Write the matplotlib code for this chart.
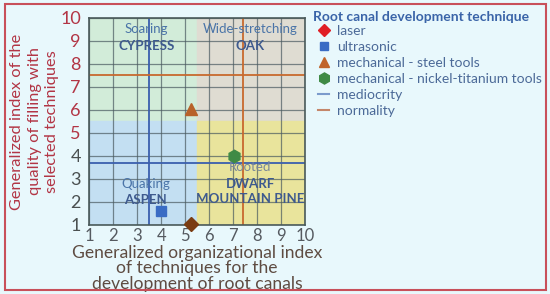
import matplotlib
matplotlib.use("Agg")
import matplotlib.pyplot as plt
from matplotlib.lines import Line2D
from matplotlib.patches import Rectangle

plt.rcParams['font.family'] = ['Lato', 'DejaVu Sans']

# ---- data ----
techniques = ["laser", "ultrasonic", "mechanical - steel tools",
              "mechanical - nickel-titanium tools"]
org_index = [5.25, 4.0, 5.25, 7.05]       # x: organizational index
quality_index = [1.05, 1.6, 6.05, 4.0]    # y: quality of filling index
mediocrity_x, mediocrity_y = 3.5, 3.7
normality_x, normality_y = 7.4, 7.5
split_x, split_y = 5.5, 5.5
ticks = list(range(1, 11))
quadrant_titles = ["Soaring", "Wide-stretching", "Quaking", "Rooted"]
quadrant_names = ["CYPRESS", "OAK", "ASPEN", "DWARF\nMOUNTAIN PINE"]

# ---- styles ----
plot_colors = ["#7a3c12", "#3a6cc4", "#b8622a", "#3f8a45"]
legend_colors = ["#e01e25", "#3a6cc4", "#c0642a", "#3f8a45"]
markers = ["D", "s", "^", "h"]
msizes = [7, 7, 8, 9]

fig = plt.figure(figsize=(5.5, 2.94), dpi=100)
fig.patch.set_facecolor("#e8f8fc")
fig.patches.append(Rectangle((0.009, 0.014), 0.984, 0.972, transform=fig.transFigure,
                             fill=False, edgecolor="#c8505a", linewidth=1.5))

ax = fig.add_axes([0.162, 0.235, 0.393, 0.704])
ax.set_xlim(1, 10)
ax.set_ylim(1, 10)

# quadrants
ax.add_patch(Rectangle((1, split_y), split_x - 1, 10 - split_y, color="#d2ecd9", zorder=0))
ax.add_patch(Rectangle((split_x, split_y), 10 - split_x, 10 - split_y, color="#dfdcd2", zorder=0))
ax.add_patch(Rectangle((1, 1), split_x - 1, split_y - 1, color="#c3dff2", zorder=0))
ax.add_patch(Rectangle((split_x, 1), 10 - split_x, split_y - 1, color="#e9e49c", zorder=0))

ax.set_xticks(ticks)
ax.set_yticks(ticks)
ax.grid(True, color="#4a5a60", linewidth=0.9, alpha=0.7, zorder=1)
for s in ax.spines.values():
    s.set_color("#4a5a5a")
    s.set_linewidth(1.2)

ax.axvline(mediocrity_x, color="#3a5fae", linewidth=1.3, zorder=2)
ax.axhline(mediocrity_y, color="#3a5fae", linewidth=1.3, zorder=2)
ax.axvline(normality_x, color="#c8692e", linewidth=1.3, zorder=2)
ax.axhline(normality_y, color="#c8692e", linewidth=1.3, zorder=2)

# quadrant texts
qx = [3.4, 7.7, 3.35, 7.7]
qy_title = [9.5, 9.5, 2.8, 3.5]
qy_name = [8.8, 8.8, 2.1, 2.45]
title_colors = ["#4a74a8", "#4a74a8", "#4a74a8", "#7a8898"]
for i in range(4):
    ax.text(qx[i], qy_title[i], quadrant_titles[i], ha="center", va="center",
            fontsize=9.5, color=title_colors[i], zorder=4)
    ax.text(qx[i], qy_name[i], quadrant_names[i], ha="center", va="center",
            fontsize=9.5, fontweight="bold", color="#3e5a8e", zorder=4,
            linespacing=1.25)

for i in range(len(techniques)):
    ax.plot(org_index[i], quality_index[i], marker=markers[i], color=plot_colors[i],
            markersize=msizes[i], linestyle="none", zorder=5, clip_on=False)

ax.tick_params(length=0, labelsize=12)
ax.tick_params(axis="x", pad=2, labelcolor="#555a60")
ax.tick_params(axis="y", pad=6)
for t, lab in zip(ticks, ax.get_yticklabels()):
    lab.set_color("#b23545" if t >= 5 else "#4a5050")
    lab.set_fontsize(13)

ax.set_xlabel("Generalized organizational index\nof techniques for the\ndevelopment of root canals",
              fontsize=12.6, color="#5e4c42", linespacing=0.95, labelpad=1)
ax.set_ylabel("Generalized index of the\nquality of filling with\nselected techniques",
              fontsize=11.8, color="#b23545", linespacing=1.28, labelpad=1)

fig.text(313 / 550, 1 - 17 / 294, "Root canal development technique", ha="left",
         va="center", fontsize=10, fontweight="bold", color="#3a64a8")

handles = [Line2D([], [], marker=markers[i], color=legend_colors[i], linestyle="none",
                  markersize=msizes[i] - 1) for i in range(4)]
handles += [Line2D([], [], color="#7b9bcc", linewidth=1.5),
            Line2D([], [], color="#c4866a", linewidth=1.5)]
labels = techniques + ["mediocrity", "normality"]
leg = fig.legend(handles, labels, loc="upper left", bbox_to_anchor=(0.563, 0.945),
                 frameon=False, fontsize=10, labelcolor="#4c6a98",
                 handlelength=0.8, handletextpad=0.6, labelspacing=0.3, borderpad=0.1)

fig.savefig("out.png", dpi=100, facecolor=fig.get_facecolor())
